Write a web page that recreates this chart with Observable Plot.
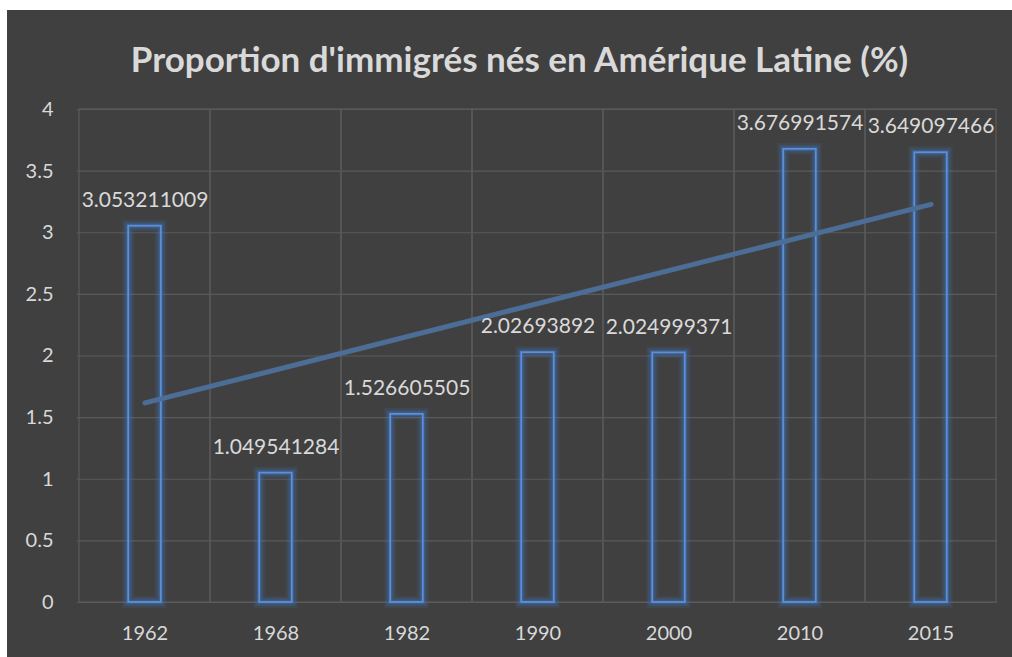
<!DOCTYPE html>
<html>
<head>
<meta charset="utf-8">
<script src="https://cdn.jsdelivr.net/npm/d3@7"></script>
<script src="https://cdn.jsdelivr.net/npm/@observablehq/plot@0.6"></script>
<style>
  html, body { margin: 0; padding: 0; background: #ffffff; }
  #chart {
    position: absolute; left: 7px; top: 10px; width: 1005px; height: 647px;
    background: #404040; font-family: Lato, "Open Sans", sans-serif;
  }
  #title {
    position: absolute; left: 20px; right: 0; top: 0; height: 96px; line-height: 96px;
    text-align: center; color: #d9d9d9; font-weight: bold; font-size: 35px; white-space: nowrap;
  }
  #chart svg { position: absolute; left: 0; top: 80px; }
</style>
</head>
<body>
<div id="chart"><div id="title">Proportion d'immigrés nés en Amérique Latine (%)</div></div>
<script>
const years = ["1962", "1968", "1982", "1990", "2000", "2010", "2015"];
const values = [3.053211009, 1.049541284, 1.526605505, 2.02693892, 2.024999371, 3.676991574, 3.649097466];
const labels = ["3.053211009", "1.049541284", "1.526605505", "2.02693892", "2.024999371", "3.676991574", "3.649097466"];
const trendYears = ["1962", "2015"];
const trendValues = [1.62, 3.23];
const yTicks = [0, 0.5, 1, 1.5, 2, 2.5, 3, 3.5, 4];

const data = years.map((y, i) => ({year: y, value: values[i], label: labels[i]}));
const trend = trendYears.map((y, i) => ({year: y, value: trendValues[i]}));

const W = 1005, H = 567, ML = 70, MR = 15;
const step = (W - ML - MR) / years.length;
const inset = (step - 33) / 2;
const barOpts = {x: "year", y: "value", fill: "none", insetLeft: inset, insetRight: inset};

const chart = Plot.plot({
  width: W,
  height: H,
  marginLeft: ML,
  marginRight: MR,
  marginTop: 19,
  marginBottom: 55,
  style: {background: "transparent", color: "#d9d9d9", fontFamily: "Lato, 'Open Sans', sans-serif", fontSize: "20px", overflow: "visible"},
  x: {domain: years, padding: 0, label: null, tickSize: 0, tickPadding: 23},
  y: {domain: [0, 4], ticks: yTicks, tickFormat: d => String(d), label: null, tickSize: 0, tickPadding: 24},
  marks: [
    Plot.gridY(yTicks, {stroke: "#5a5a5a", strokeOpacity: 1, strokeWidth: 1.2}),
    Plot.barY(years, {x: d => d, y1: 0, y2: 4, fill: "none", stroke: "#5a5a5a", strokeWidth: 1.2}),
    Plot.barY(data, {...barOpts, stroke: "#3f78c8", strokeWidth: 12, strokeOpacity: 0.12}),
    Plot.barY(data, {...barOpts, stroke: "#3f78c8", strokeWidth: 8, strokeOpacity: 0.18}),
    Plot.barY(data, {...barOpts, stroke: "#3f78c8", strokeWidth: 4.5, strokeOpacity: 0.3}),
    Plot.barY(data, {...barOpts, stroke: "#5b8fdc", strokeWidth: 1.8}),
    Plot.line(trend, {x: "year", y: "value", stroke: "#4c6d96", strokeWidth: 5, strokeLinecap: "round"}),
    Plot.text(data, {x: "year", y: "value", text: "label", dy: -26, fill: "#d9d9d9", fontSize: 21})
  ]
});
document.getElementById("chart").appendChild(chart);
</script>
</body>
</html>
